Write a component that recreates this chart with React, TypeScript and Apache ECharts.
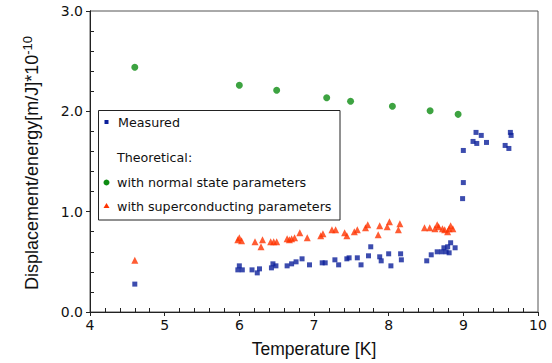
import React, { useEffect, useRef } from "react";
import * as echarts from "echarts";

const measuredT = [4.60, 5.98, 6.0, 6.04, 6.17, 6.24, 6.27, 6.43, 6.45, 6.49, 6.64, 6.70, 6.76, 6.84, 6.94, 7.11, 7.15, 7.28, 7.33, 7.44, 7.47, 7.58, 7.63, 7.73, 7.76, 7.88, 7.90, 8.0, 8.03, 8.16, 8.17, 8.51, 8.57, 8.65, 8.71, 8.74, 8.77, 8.81, 8.79, 8.83, 8.89, 8.99, 9.00, 9.00, 9.13, 9.18, 9.17, 9.24, 9.31, 9.56, 9.61, 9.63, 9.64];
const measuredV = [0.278, 0.42, 0.46, 0.42, 0.42, 0.39, 0.43, 0.44, 0.48, 0.46, 0.46, 0.48, 0.50, 0.53, 0.47, 0.49, 0.49, 0.52, 0.47, 0.53, 0.54, 0.54, 0.47, 0.56, 0.65, 0.55, 0.51, 0.58, 0.46, 0.58, 0.52, 0.51, 0.57, 0.60, 0.60, 0.64, 0.60, 0.59, 0.65, 0.69, 0.64, 1.13, 1.29, 1.61, 1.70, 1.68, 1.79, 1.76, 1.69, 1.66, 1.63, 1.79, 1.76];

const normalT = [4.60, 6.0, 6.50, 7.17, 7.49, 8.05, 8.555, 8.93];
const normalV = [2.44, 2.26, 2.21, 2.135, 2.10, 2.05, 2.006, 1.97];

const scT = [4.60, 5.98, 6.0, 6.03, 6.21, 6.29, 6.31, 6.42, 6.46, 6.50, 6.64, 6.67, 6.70, 6.74, 6.81, 6.91, 7.09, 7.12, 7.24, 7.29, 7.41, 7.44, 7.54, 7.58, 7.69, 7.72, 7.86, 7.88, 7.98, 8.01, 8.13, 8.15, 8.48, 8.55, 8.62, 8.65, 8.67, 8.72, 8.75, 8.79, 8.81, 8.83, 8.86];
const scV = [0.516, 0.72, 0.74, 0.71, 0.70, 0.65, 0.72, 0.70, 0.70, 0.70, 0.73, 0.72, 0.73, 0.74, 0.79, 0.74, 0.76, 0.78, 0.82, 0.82, 0.79, 0.76, 0.80, 0.82, 0.84, 0.87, 0.77, 0.86, 0.85, 0.90, 0.82, 0.88, 0.84, 0.84, 0.83, 0.87, 0.85, 0.83, 0.82, 0.80, 0.83, 0.86, 0.83];

const xTicks = [4, 5, 6, 7, 8, 9, 10];
const yTicks = [0, 1, 2, 3];

const BLUE = "#0b1f9a";
const GREEN = "#0d8c12";
const RED = "#ff3300";
const FONT = "DejaVu Sans";
const TITLE_FONT = "Liberation Sans";

const pairs = (xs: number[], ys: number[]) => xs.map((x, i) => [x, ys[i]]);

export default function App() {
  const ref = useRef<HTMLDivElement>(null);
  useEffect(() => {
    if (!ref.current) return;
    const chart = echarts.init(ref.current, null, { renderer: "svg" });
    const axisCommon = {
      type: "value" as const,
      axisLine: { show: true, lineStyle: { color: "#222", width: 1 } },
      splitLine: { show: false },
    };
    chart.setOption({
      animation: false,
      grid: { left: 90, right: 14, top: 11, bottom: 49, show: true, borderColor: "#555", borderWidth: 1 },
      xAxis: [
        {
          ...axisCommon,
          min: xTicks[0],
          max: xTicks[xTicks.length - 1],
          interval: 1,
          axisTick: { show: true, inside: false, length: 4, lineStyle: { color: "#222" } },
          axisLabel: { color: "#111", fontSize: 14, fontFamily: FONT, margin: 6 },
          name: "Temperature [K]",
          nameLocation: "middle",
          nameGap: 28,
          nameTextStyle: { color: "#111", fontSize: 17.5, fontFamily: TITLE_FONT },
        },
        {
          ...axisCommon,
          position: "bottom",
          min: xTicks[0],
          max: xTicks[xTicks.length - 1],
          interval: 1,
          axisTick: { show: false, inside: true },
          minorTick: { show: true, splitNumber: 5, length: 4, lineStyle: { color: "#222" } },
          axisLabel: { show: false },
        },
      ],
      yAxis: [
        {
          ...axisCommon,
          min: yTicks[0],
          max: yTicks[yTicks.length - 1],
          interval: 1,
          axisTick: { show: true, inside: false, length: 4, lineStyle: { color: "#222" } },
          axisLabel: { color: "#111", fontSize: 14, fontFamily: FONT, margin: 7, formatter: (v: number) => v.toFixed(1) },
        },
        {
          ...axisCommon,
          position: "left",
          min: yTicks[0],
          max: yTicks[yTicks.length - 1],
          interval: 1,
          axisTick: { show: false, inside: true },
          minorTick: { show: true, splitNumber: 5, length: 4, lineStyle: { color: "#222" } },
          axisLabel: { show: false },
        },
      ],
      series: [
        {
          type: "scatter",
          data: pairs(scT, scV),
          symbol: "triangle",
          symbolSize: 7,
          itemStyle: { color: RED },
        },
        {
          type: "scatter",
          data: pairs(measuredT, measuredV),
          symbol: "rect",
          symbolSize: 5,
          itemStyle: { color: BLUE },
        },
        {
          type: "scatter",
          data: pairs(normalT, normalV),
          symbol: "circle",
          symbolSize: 7,
          itemStyle: { color: GREEN },
        },
      ],
      graphic: [
        {
          type: "text",
          x: 32,
          y: 163,
          rotation: Math.PI / 2,
          style: {
            text: "{a|Displacement/energy[m/J]*10}{b|-10}",
            align: "center",
            verticalAlign: "middle",
            rich: {
              a: { fontSize: 18, fontFamily: TITLE_FONT, fill: "#111", lineHeight: 23 },
              b: { fontSize: 13, fontFamily: TITLE_FONT, fill: "#111", verticalAlign: "top", lineHeight: 23 },
            },
          },
        },
        {
          type: "group",
          z: 100,
          children: [
            { type: "rect", shape: { x: 98.5, y: 110.5, width: 241.5, height: 109.5 }, style: { fill: "#fff", stroke: "#222", lineWidth: 1 } },
            { type: "rect", shape: { x: 104.5, y: 120, width: 4, height: 4 }, style: { fill: BLUE } },
            { type: "text", x: 118, y: 122, style: { text: "Measured", fontSize: 12.7, fontFamily: FONT, fill: "#111", verticalAlign: "middle" } },
            { type: "text", x: 117, y: 157, style: { text: "Theoretical:", fontSize: 12.7, fontFamily: FONT, fill: "#111", verticalAlign: "middle" } },
            { type: "circle", shape: { cx: 106.5, cy: 182.5, r: 3 }, style: { fill: GREEN } },
            { type: "text", x: 117, y: 182, style: { text: "with normal state parameters", fontSize: 12.7, fontFamily: FONT, fill: "#111", verticalAlign: "middle" } },
            { type: "polygon", shape: { points: [[106.5, 203], [103.5, 208], [109.5, 208]] }, style: { fill: RED } },
            { type: "text", x: 117, y: 206, style: { text: "with superconducting parameters", fontSize: 12.7, fontFamily: FONT, fill: "#111", verticalAlign: "middle" } },
          ],
        },
      ],
    });
    return () => chart.dispose();
  }, []);
  return <div ref={ref} style={{ width: 552, height: 363, position: "absolute", left: 0, top: 0 }} />;
}
